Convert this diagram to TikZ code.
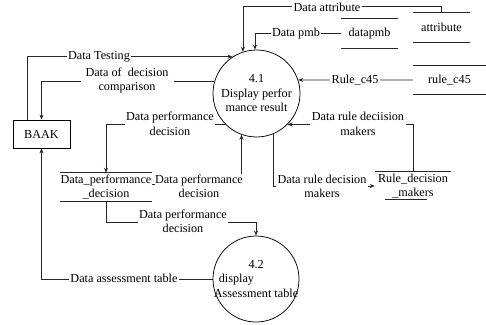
\documentclass[tikz,border=0pt]{standalone}
\usepackage{fontspec}
\setmainfont{Liberation Serif}
\usetikzlibrary{arrows.meta}
\begin{document}
\begin{tikzpicture}[x=1pt,y=1pt,
  every node/.style={font=\fontsize{12.2pt}{14.5pt}\selectfont, inner sep=0pt},
  flow/.style={line width=0.75pt, draw=black!85, -{Stealth[length=5pt,width=4pt]}},
  process/.style={circle, draw=black, line width=0.75pt, minimum size=87pt},
  entity/.style={rectangle, draw=black, line width=0.75pt, minimum width=57pt, minimum height=28pt},
  store/.style={minimum height=28pt, align=center},
  storeline/.style={line width=0.75pt, draw=black!85},
  flowlabel/.style={fill=white, inner xsep=1.5pt, inner ysep=0.5pt, align=center}]
\useasboundingbox (0,0) rectangle (486,324);

% processes and external entity
\node[process] (P41) at (256.5,230.5) {};
\node[align=center] (P41t) at (P41) {4.1\\Display perfor\\mance result};
\node[process, minimum size=86pt] (P42) at (256,45) {};
\node[align=left] (P42t) at (P42) {\hspace*{34.7pt}4.2\\\hspace*{5pt}display\\Assessment table};
\node[entity] (BAAK) at (41.5,190) {BAAK};

% data stores
\node[store, minimum width=86pt] (DPD) at (106,137) {Data\_performance\\\_decision};
\node[store, minimum width=76pt] (RDM) at (413,138) {Rule\_decision\\\_makers};
\node[store, minimum width=73pt] (RC) at (449.5,244) {rule\_c45};
\node[store, minimum width=57pt, minimum height=29pt] (AT) at (441.5,296.5) {attribute};
\node[store, minimum width=57pt, minimum height=29pt] (DP) at (369.5,290.5) {datapmb};

\draw[storeline] (DPD.north west) -- (DPD.north east);
\draw[storeline] (DPD.south west) -- (DPD.south east);
\draw[storeline] (RDM.north west) -- (RDM.north east);
\draw[storeline] ([xshift=10pt,yshift=1pt]RDM.south west) -- ([xshift=-24pt,yshift=1pt]RDM.south east);
\draw[storeline] (RC.north west) -- (RC.north east);
\draw[storeline] (RC.south west) -- (RC.south east);
\draw[storeline] (AT.north west) -- (AT.north east);
\draw[storeline] (AT.south west) -- (AT.south east);
\draw[storeline] (DP.north west) -- (DP.north east);
\draw[storeline] (DP.south west) -- (DP.south east);

% data flows
\draw[flow] ([xshift=-14.5pt]BAAK.north) |- (P41.123);
\draw[flow] (P41.164.7) -| (BAAK.north);
\draw[flow] (P41.224.5) -| (DPD.north);
\draw[flow] ([yshift=3pt]DPD.east) -| (P41.250.5);
\draw[flow] (P41.292.3) |- (RDM.west);
\draw[flow] (RDM.north) |- (P41.315.5);
\draw[flow] (RC.west) -- (P41.18.1);
\draw[flow] (AT.north) -- ++(0,6) -| (P41.108.1);
\draw[flow] (DP.west) -| (P41.92);
\draw[flow] (DPD.south) -- ++(0,-21) -| (P42.north);
\draw[flow] (P42.west) -| (BAAK.south);

% flow labels
\node[flowlabel] (l1) at (99,267) {Data Testing};
\node[flowlabel, inner xsep=5pt] (l2) at (127,243.5) {Data of\ \ decision\\comparison};
\node[flowlabel] (l3) at (170,200) {Data performance\\decision};
\node[flowlabel, inner xsep=0pt] (l4) at (199,137.5) {Data performance\\decision};
\node[flowlabel] (l5) at (322,137.5) {Data rule decision\\makers};
\node[flowlabel] (l6) at (358,200) {Data rule deciision\\makers};
\node[flowlabel] (l7) at (355,244) {Rule\_c45};
\node[flowlabel] (l8) at (327,317) {Data attribute};
\node[flowlabel] (l9) at (296,290.5) {Data pmb};
\node[flowlabel] (l10) at (183,102.5) {Data performance\\decision};
\node[flowlabel] (l11) at (124,46) {Data assessment table};
\end{tikzpicture}
\end{document}
